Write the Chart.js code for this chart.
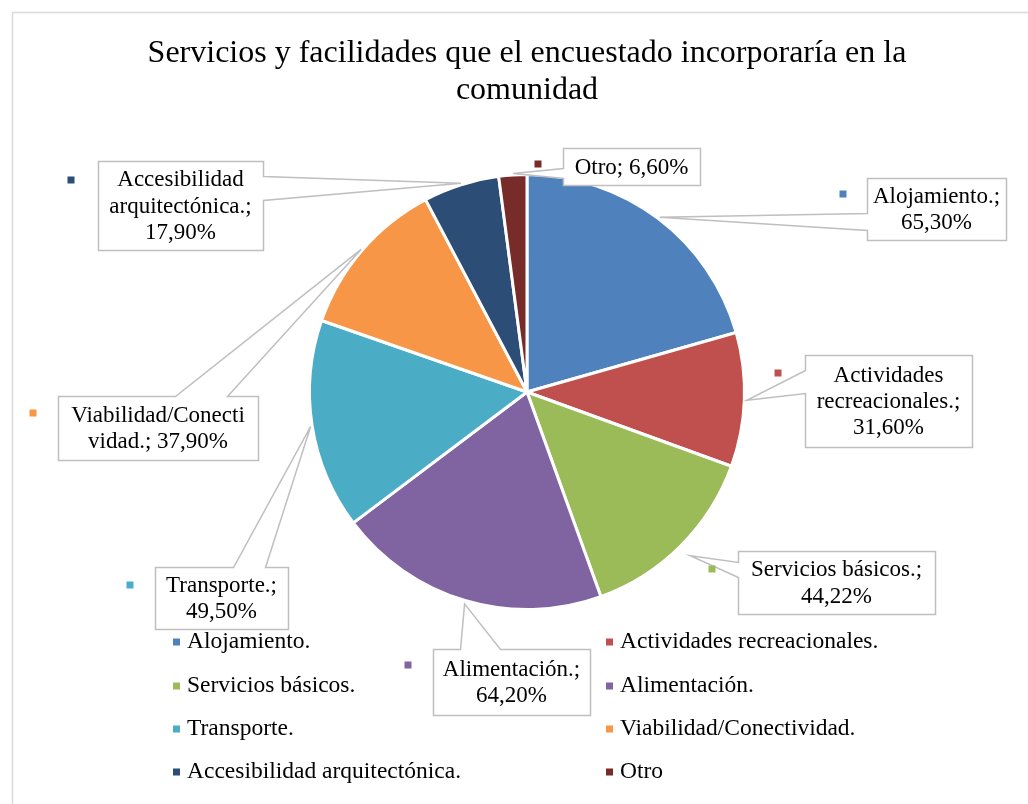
<!DOCTYPE html>
<html>
<head>
<meta charset="utf-8">
<script src="https://cdn.jsdelivr.net/npm/chart.js@4/dist/chart.umd.min.js"></script>
<style>
html,body{margin:0;padding:0;background:#fff;}
#wrap{width:1028px;height:804px;position:relative;}
</style>
</head>
<body>
<div id="wrap"><canvas id="c" width="1028" height="804"></canvas></div>
<script>
// ---- data ----
const categories = ["Alojamiento.", "Actividades recreacionales.", "Servicios básicos.", "Alimentación.", "Transporte.", "Viabilidad/Conectividad.", "Accesibilidad arquitectónica.", "Otro"];
const percentages = [65.30, 31.60, 44.22, 64.20, 49.50, 37.90, 17.90, 6.60];
const titleLines = ["Servicios y facilidades que el encuestado incorporaría en la", "comunidad"];

// ---- styles / layout ----
const sliceColors = ["#4F81BD", "#C0504D", "#9BBB59", "#8064A2", "#4BACC6", "#F79646", "#2C4D75", "#772C2A"];
const FONT = "'Liberation Serif', 'Times New Roman', serif";
// callout boxes: box [x,y,w,h], side the pointer leaves from, base points along that side, marker position
const calloutLayout = [
  {box:[867,178,139,62],  side:'left',  base:[213,230], marker:[843,194], wrap:131, gap:2},
  {box:[805,355,167,92],  side:'left',  base:[370,393], marker:[778,373], wrap:159, gap:2},
  {box:[738,551,197,63],  side:'left',  base:[562,577], marker:[712,569], wrap:189, gap:13},
  {box:[433,649,157,66],  side:'top',   base:[460,500], marker:[408,665], wrap:149, gap:3},
  {box:[155,567,133,62],  side:'top',   base:[233,265], marker:[130,585], wrap:125, gap:2},
  {box:[58,396,200,64],   side:'top',   base:[175,227], marker:[33,413],  wrap:180, gap:2},
  {box:[98,161,165,89],   side:'right', base:[176,200], marker:[71,180],  wrap:157, gap:2},
  {box:[563,148,137,37],  side:'left',  base:[168,178], marker:[538,164], wrap:200, gap:2}
];

function fmt(v){ return v.toFixed(2).replace('.', ',') + '%'; }

function wrapText(ctx, text, maxW){
  const words = text.split(' ');
  const lines = [];
  let cur = '';
  const pushWord = (w) => {
    const trial = cur ? cur + ' ' + w : w;
    if (ctx.measureText(trial).width <= maxW) { cur = trial; return; }
    if (cur) { lines.push(cur); cur = ''; }
    if (ctx.measureText(w).width <= maxW) { cur = w; return; }
    let piece = '';
    for (const ch of w) {
      if (ctx.measureText(piece + ch).width > maxW) { lines.push(piece); piece = ch; }
      else piece += ch;
    }
    cur = piece;
  };
  words.forEach(pushWord);
  if (cur) lines.push(cur);
  return lines;
}

const framePlugin = {
  id: 'frame',
  beforeDraw(chart){
    const ctx = chart.ctx;
    ctx.save();
    ctx.fillStyle = '#fff';
    ctx.fillRect(0, 0, chart.width, chart.height);
    ctx.strokeStyle = '#D9D9D9';
    ctx.lineWidth = 1.5;
    ctx.beginPath();
    ctx.moveTo(12.5, chart.height + 5);
    ctx.lineTo(12.5, 12.5);
    ctx.lineTo(chart.width + 5, 12.5);
    ctx.stroke();
    ctx.restore();
  }
};

const legendPlugin = {
  id: 'gridLegend',
  afterDraw(chart, args, o){
    const ctx = chart.ctx;
    const labels = chart.data.labels;
    const colors = chart.data.datasets[0].backgroundColor;
    ctx.save();
    ctx.font = o.fontSize + 'px ' + FONT;
    ctx.textBaseline = 'middle';
    ctx.textAlign = 'left';
    labels.forEach((lab, i) => {
      const col = i % 2, row = Math.floor(i / 2);
      const x = o.colX[col], y = o.rowY[row];
      ctx.fillStyle = colors[i];
      ctx.fillRect(x, y - o.box / 2, o.box, o.box);
      ctx.fillStyle = '#000';
      ctx.fillText(lab, x + o.box + o.gap, y);
    });
    ctx.restore();
  }
};

const calloutPlugin = {
  id: 'callouts',
  afterDraw(chart, args, o){
    const ctx = chart.ctx;
    const meta = chart.getDatasetMeta(0);
    const values = chart.data.datasets[0].data;
    const colors = chart.data.datasets[0].backgroundColor;
    ctx.save();
    ctx.font = o.fontSize + 'px ' + FONT;
    meta.data.forEach((arc, i) => {
      const L = o.layout[i];
      const p = arc.getProps(['x', 'y', 'startAngle', 'endAngle', 'outerRadius'], true);
      const mid = (p.startAngle + p.endAngle) / 2;
      const r = p.outerRadius + L.gap;
      const tx = p.x + Math.cos(mid) * r, ty = p.y + Math.sin(mid) * r;
      const [bx, by, bw, bh] = L.box;
      const pts = [[bx, by]];
      if (L.side === 'top') pts.push([L.base[0], by], [tx, ty], [L.base[1], by]);
      pts.push([bx + bw, by]);
      if (L.side === 'right') pts.push([bx + bw, L.base[0]], [tx, ty], [bx + bw, L.base[1]]);
      pts.push([bx + bw, by + bh], [bx, by + bh]);
      if (L.side === 'left') pts.push([bx, L.base[1]], [tx, ty], [bx, L.base[0]]);
      ctx.beginPath();
      pts.forEach((pt, k) => k ? ctx.lineTo(pt[0] + 0.5, pt[1] + 0.5) : ctx.moveTo(pt[0] + 0.5, pt[1] + 0.5));
      ctx.closePath();
      ctx.fillStyle = '#fff';
      ctx.fill();
      ctx.strokeStyle = '#BFBFBF';
      ctx.lineWidth = 1.5;
      ctx.lineJoin = 'miter';
      ctx.stroke();
      ctx.fillStyle = colors[i];
      ctx.fillRect(L.marker[0] - o.box / 2, L.marker[1] - o.box / 2, o.box, o.box);
      const label = chart.data.labels[i];
      const txt = label + '; ' + fmt(values[i]);
      const lines = wrapText(ctx, txt, L.wrap);
      const lh = o.fontSize * o.lineHeight;
      const cy = by + bh / 2;
      ctx.fillStyle = '#000';
      ctx.textAlign = 'center';
      ctx.textBaseline = 'middle';
      lines.forEach((ln, k) => {
        ctx.fillText(ln, bx + bw / 2, cy + (k - (lines.length - 1) / 2) * lh + 1);
      });
    });
    ctx.restore();
  }
};

new Chart(document.getElementById('c'), {
  type: 'pie',
  data: {
    labels: categories,
    datasets: [{
      data: percentages,
      backgroundColor: sliceColors,
      borderColor: '#ffffff',
      borderWidth: 3
    }]
  },
  plugins: [framePlugin, legendPlugin, calloutPlugin],
  options: {
    responsive: false,
    animation: false,
    events: [],
    radius: 217.5,
    rotation: 0,
    layout: { padding: { left: 60, right: 34, top: 0, bottom: 146.6 } },
    plugins: {
      legend: { display: false },
      tooltip: { enabled: false },
      title: {
        display: true,
        text: titleLines,
        color: '#000',
        font: { family: FONT, size: 32, weight: 'normal', lineHeight: 1.15 },
        padding: { top: 35, bottom: 18 }
      },
      gridLegend: { fontSize: 23.5, box: 7, gap: 7, colX: [173, 606], rowY: [642, 686, 729, 772] },
      callouts: { fontSize: 23, lineHeight: 1.15, box: 7, layout: calloutLayout }
    }
  }
});
</script>
</body>
</html>
